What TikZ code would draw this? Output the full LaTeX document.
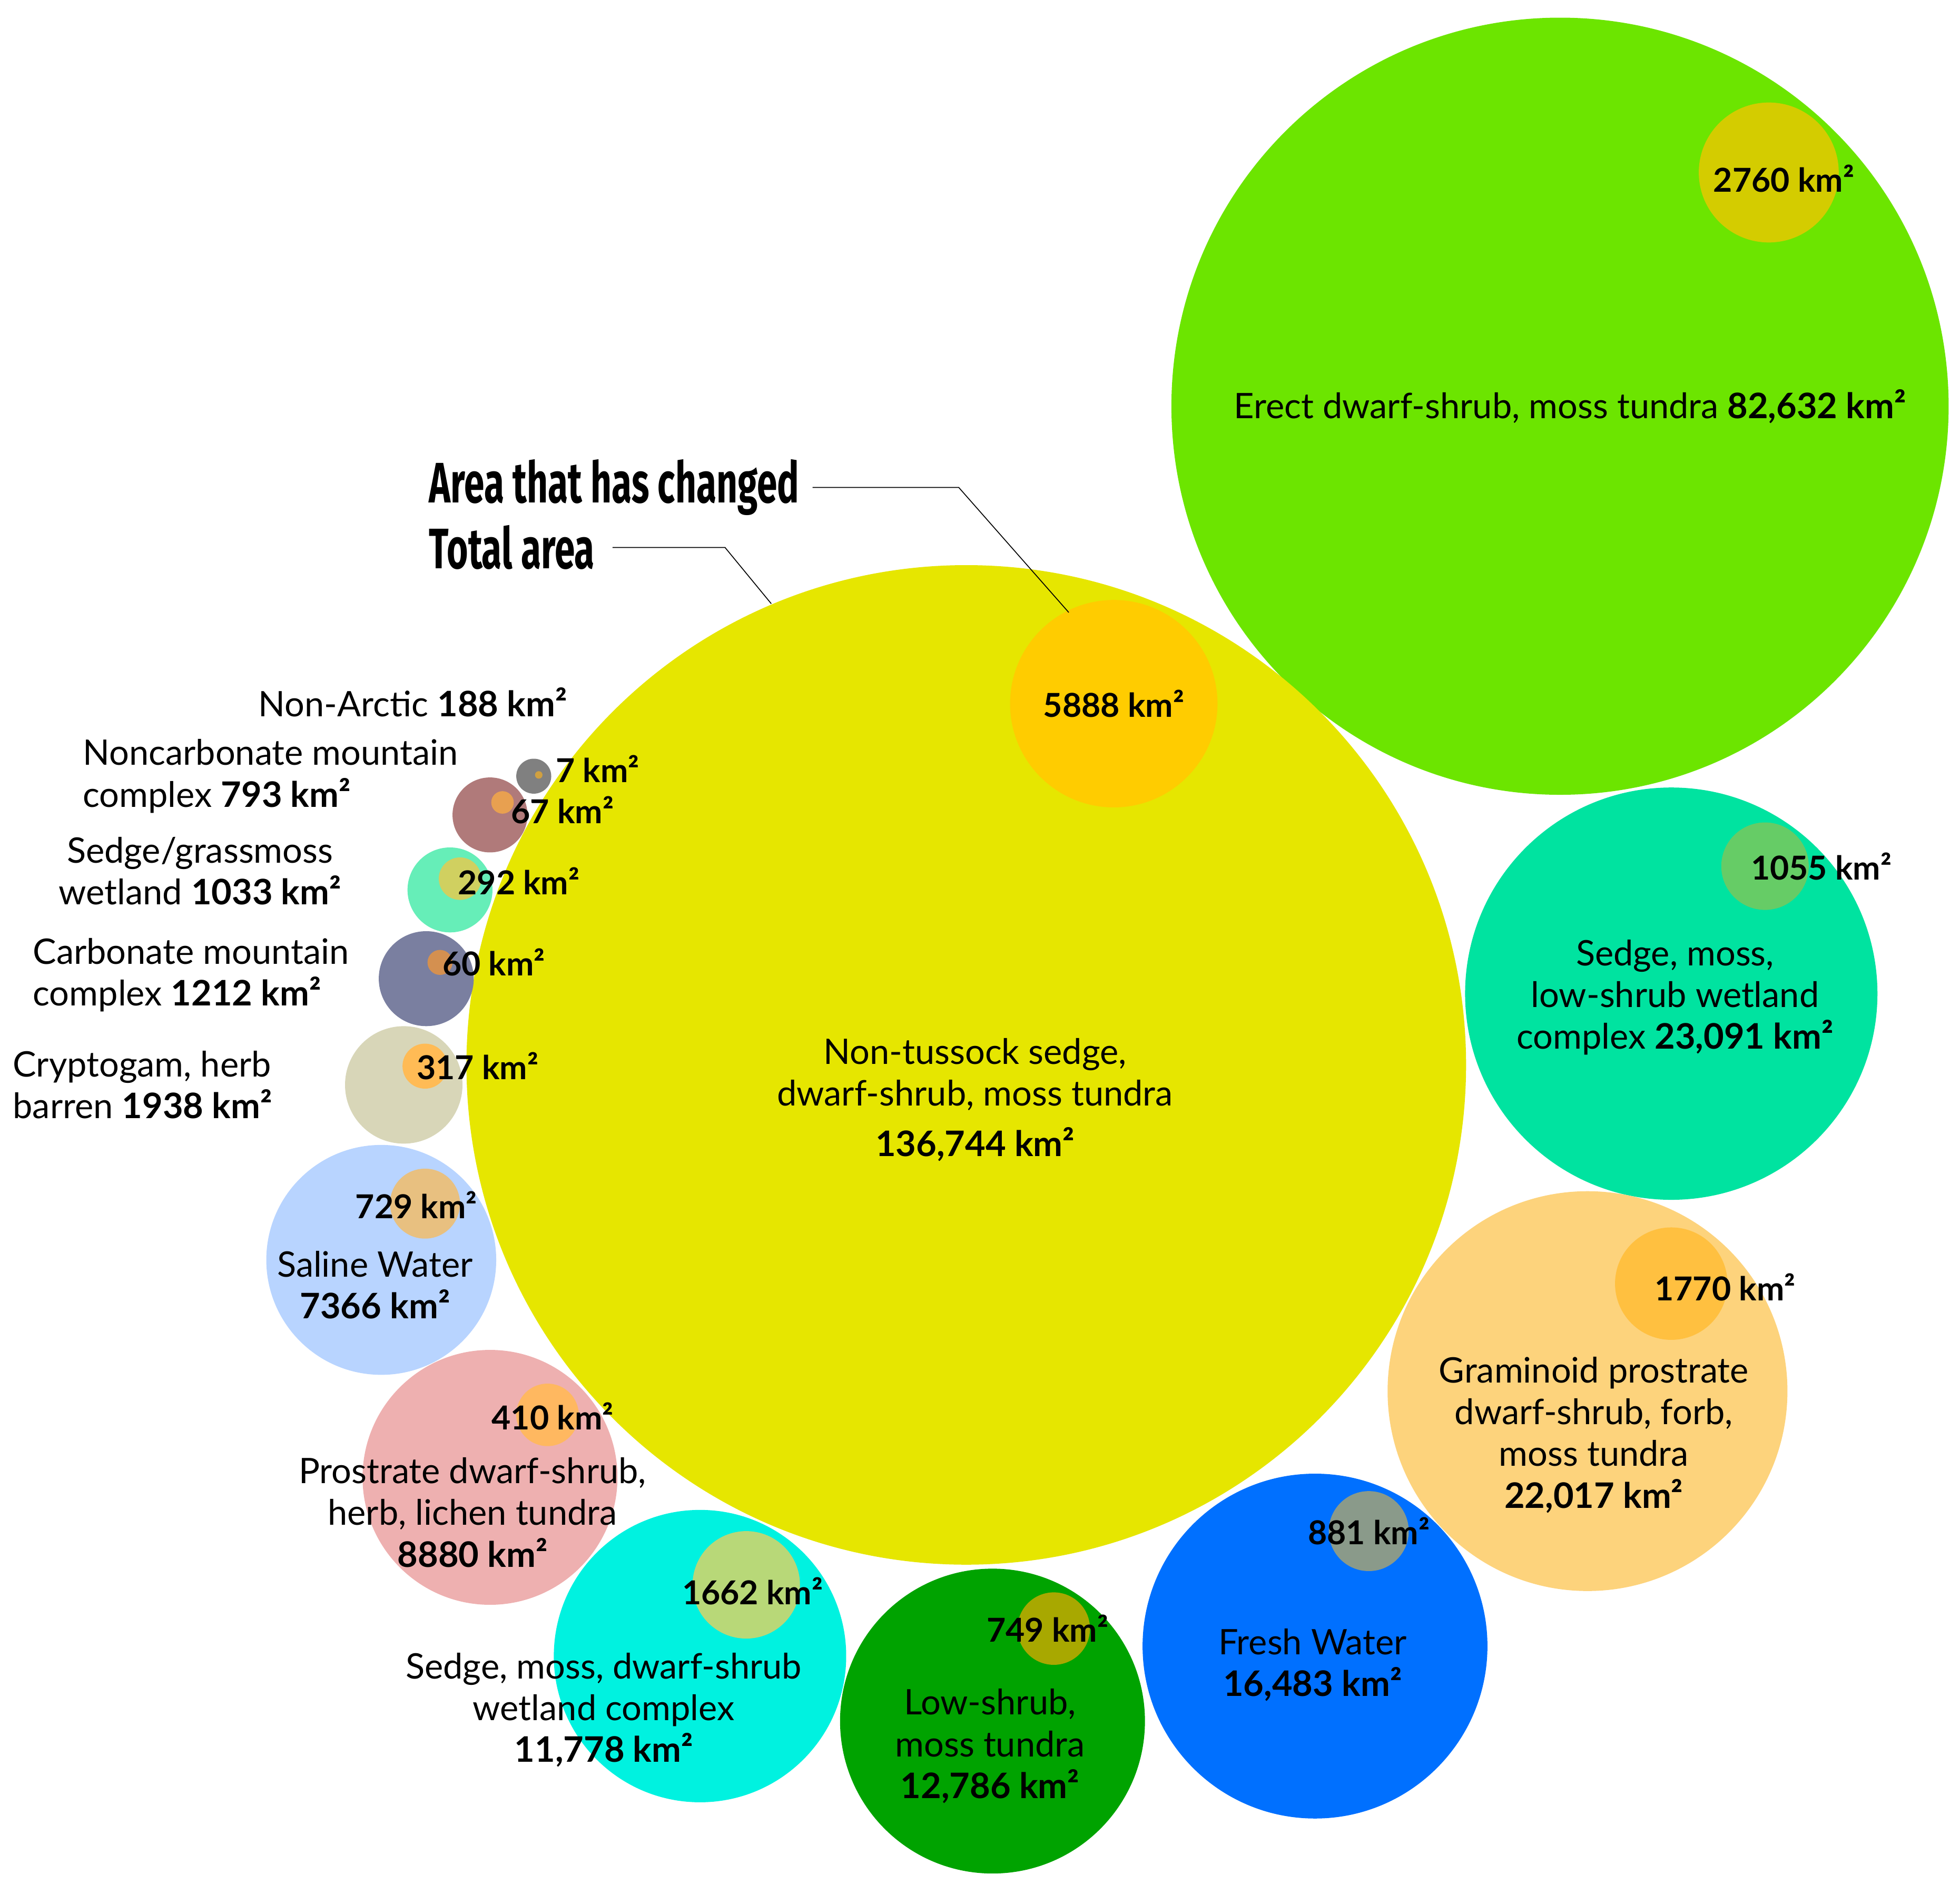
\documentclass[tikz,border=0pt]{standalone}
\usepackage{fontspec}
\setmainfont{Lato}
\newfontfamily\headfont{Fira Sans}[FakeStretch=0.64]
\begin{document}
\begin{tikzpicture}[x=0.02cm,y=-0.02cm,
    bubble/.style={circle,draw=none,inner sep=0pt},
    lbl/.style={font=\fontsize{16}{19}\selectfont,align=center,inner sep=0pt},
    val/.style={font=\fontsize{15}{18}\selectfont\bfseries,inner sep=0pt},
    head/.style={font=\fontsize{26}{30}\selectfont\headfont\bfseries,anchor=west,inner sep=0pt},
    leader/.style={thin,black}]
    \useasboundingbox (0,0) rectangle (1568,1508);
    % bubble macro: name, x, y, radius, colour
    \newcommand\bub[5]{\definecolor{c#1}{HTML}{#5}\node[bubble,fill=c#1,minimum size=#4*0.04cm] (#1) at (#2,#3) {};}

    % Outer bubbles
    \bub{erect}{1248}{325}{311}{6CE500}
    \bub{nontus}{773}{852}{400}{E6E600}
    \bub{sedge}{1337}{795}{165}{00E3A0}
    \bub{gram}{1270}{1113}{160}{FDD37C}
    \bub{fresh}{1052}{1317}{138}{0070FF}
    \bub{low}{794}{1377}{122}{00A300}
    \bub{wet}{560}{1325}{117}{00F2E0}
    \bub{prost}{392}{1182}{102}{EEB0B0}
    \bub{saline}{305}{1008}{92}{B8D4FF}
    \bub{crypt}{323}{868}{47}{D8D6B8}
    \bub{carb}{341}{783}{38}{7A7FA0}
    \bub{grass}{360}{712}{34}{66EEB8}
    \bub{noncarb}{392}{652}{30}{B07A7A}
    \bub{arctic}{427}{621}{14}{808080}

    % Changed area bubbles
    \bub{erectc}{1415}{138}{56}{D4CC00}
    \bub{nontusc}{891}{563}{83}{FFCC00}
    \bub{sedgec}{1412}{693}{35}{66CC66}
    \bub{gramc}{1337}{1027}{45}{FFC040}
    \bub{freshc}{1095}{1225}{32}{8A9A8A}
    \bub{lowc}{843}{1303}{29}{A8A800}
    \bub{wetc}{597}{1268}{43}{B8D878}
    \bub{prostc}{438}{1132}{25}{FFB860}
    \bub{salinec}{340}{963}{28}{E8C080}
    \bub{cryptc}{340}{853}{18}{FFBB55}
    \bub{carbc}{352}{770}{10}{D49050}
    \bub{grassc}{368}{703}{17}{D0D060}
    \bub{noncarbc}{402}{642}{9}{E8A050}
    \bub{arcticc}{431}{620}{3}{D0A040}

    % Labels
    \node[lbl] (erectl) at (1256,325) {Erect dwarf-shrub, moss tundra \textbf{82,632 km²}};
    \node[val] (erectv) at (1427,143) {2760 km²};
    \node[val] (nontusv) at (891,563) {5888 km²};
    \node[lbl] (nontusl) at (780,880) {Non-tussock sedge,\\dwarf-shrub, moss tundra\\[4pt]\textbf{136,744 km²}};
    \node[val] (sedgev) at (1457,693) {1055 km²};
    \node[lbl] (sedgel) at (1340,798) {Sedge, moss,\\low-shrub wetland\\complex \textbf{23,091 km²}};
    \node[val] (gramv) at (1380,1030) {1770 km²};
    \node[lbl] (graml) at (1275,1148) {Graminoid prostrate\\dwarf-shrub, forb,\\moss tundra\\\textbf{22,017 km²}};
    \node[val] (freshv) at (1095,1225) {881 km²};
    \node[lbl] (freshl) at (1050,1332) {Fresh Water\\\textbf{16,483 km²}};
    \node[val] (lowv) at (838,1303) {749 km²};
    \node[lbl] (lowl) at (792,1397) {Low-shrub,\\moss tundra\\\textbf{12,786 km²}};
    \node[val] (wetv) at (602,1273) {1662 km²};
    \node[lbl] (wetl) at (483,1368) {Sedge, moss, dwarf-shrub\\wetland complex\\\textbf{11,778 km²}};
    \node[val] (prostv) at (442,1133) {410 km²};
    \node[lbl] (prostl) at (378,1210) {Prostrate dwarf-shrub,\\herb, lichen tundra\\\textbf{8880 km²}};
    \node[val] (salinev) at (333,964) {729 km²};
    \node[lbl] (salinel) at (300,1028) {Saline Water\\\textbf{7366 km²}};
    \node[val] (cryptv) at (382,853) {317 km²};
    \node[lbl,align=left,anchor=west] (cryptl) at (10,868) {Cryptogam, herb\\barren \textbf{1938 km²}};
    \node[val] (carbv) at (395,770) {60 km²};
    \node[lbl,align=left,anchor=west] (carbl) at (26,780) {Carbonate mountain\\complex \textbf{1212 km²}};
    \node[val] (grassv) at (415,705) {292 km²};
    \node[lbl] (grassl) at (160,697) {Sedge/grassmoss\\wetland \textbf{1033 km²}};
    \node[val] (noncarbv) at (450,648) {67 km²};
    \node[lbl,align=left,anchor=west] (noncarbl) at (66,621) {Noncarbonate mountain\\complex \textbf{793 km²}};
    \node[val] (arcticv) at (478,615) {7 km²};
    \node[lbl,anchor=east] (arcticl) at (454,562) {Non-Arctic \textbf{188 km²}};

    % Legend
    \node[head] (changed) at (343,390) {Area that has changed};
    \node[head] (total) at (343,438) {Total area};
    \coordinate (changedend) at (855,490);
    \coordinate (totalend) at (617,483);
    \draw[leader] ([xshift=6pt]changed.east) -- (767,390) -- (changedend);
    \draw[leader] ([xshift=8pt]total.east) -- (580,438) -- (totalend);
\end{tikzpicture}
\end{document}
